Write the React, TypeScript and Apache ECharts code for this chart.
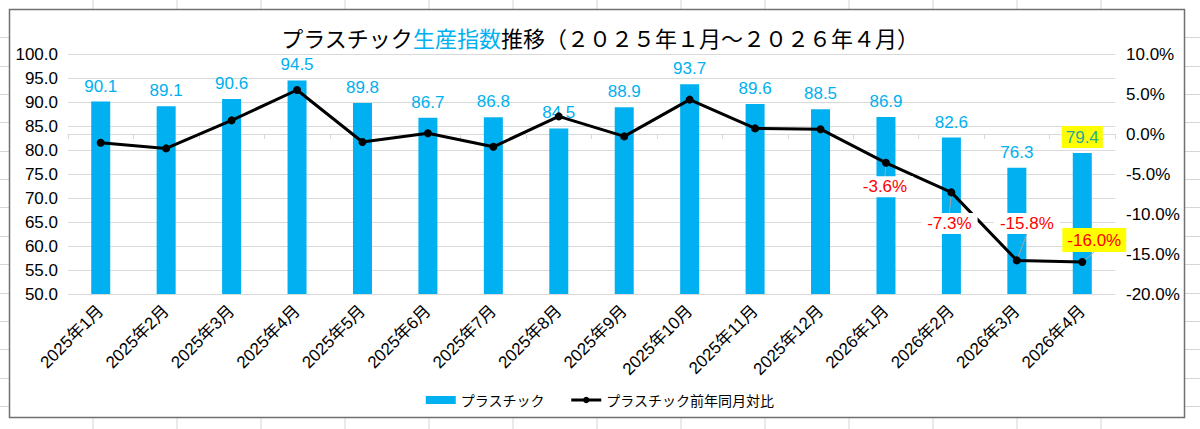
import React, { useEffect, useRef } from "react";
import * as echarts from "echarts";

const CATEGORIES = [
  "2025年1月", "2025年2月", "2025年3月", "2025年4月", "2025年5月", "2025年6月",
  "2025年7月", "2025年8月", "2025年9月", "2025年10月", "2025年11月", "2025年12月",
  "2026年1月", "2026年2月", "2026年3月", "2026年4月",
];
const INDEX_VALUES = [90.1, 89.1, 90.6, 94.5, 89.8, 86.7, 86.8, 84.5, 88.9, 93.7, 89.6, 88.5, 86.9, 82.6, 76.3, 79.4];
const YOY_VALUES = [-1.1, -1.8, 1.7, 5.5, -1.0, 0.1, -1.6, 2.2, -0.3, 4.3, 0.7, 0.6, -3.6, -7.3, -15.8, -16.0];
const LEFT_AXIS = { min: 50, max: 100, step: 5 };
const RIGHT_AXIS = { min: -20, max: 10, step: 5 };
const BAR_NAME = "プラスチック";
const LINE_NAME = "プラスチック前年同月対比";

const NUM_FONT = "'Liberation Sans', Arial, 'Noto Sans CJK JP', sans-serif";
const JP_FONT = "'Noto Sans CJK JP', 'Noto Sans', sans-serif";
const BLUE = "#00B0F0";

// label placement offsets (dx, dy) for the labelled line points, relative to the point
const LINE_LABEL_SHIFT: Record<number, [number, number]> = {
  12: [-1, 24],
  13: [-2, 31],
  14: [10, -37],
  15: [12, -22],
};

export default function App() {
  const ref = useRef<HTMLDivElement>(null);

  useEffect(() => {
    if (!ref.current) return;
    const chart = echarts.init(ref.current, null, { renderer: "svg" });

    const n = INDEX_VALUES.length;
    const lastIdx = n - 1;

    const barData = INDEX_VALUES.map((v, i) =>
      i === lastIdx
        ? {
            value: v,
            label: {
              backgroundColor: "#FFFF00",
              padding: [3, 4, 2, 4],
              color: "#27A99A",
              distance: 5,
            },
          }
        : { value: v }
    );

    const lineData = YOY_VALUES.map((v, i) => {
      if (i < 12) return { value: v };
      const last = i === lastIdx;
      return {
        value: v,
        label: {
          show: true,
          position: "inside",
          formatter: (p: any) => Number(p.value).toFixed(1) + "%",
          color: "#FF0000",
          fontSize: 17,
          fontFamily: NUM_FONT,
          backgroundColor: last ? "#FFFF00" : "#FFFFFF",
          padding: last ? [4, 5, 3, 5] : [2, 6, 2, 6],
        },
      };
    });

    // decorative spreadsheet gridlines outside the chart frame
    const sheet: any[] = [];
    const lineColor = "#D6D6D6";
    for (let k = 1; k <= 13; k++) {
      const x = 9 + 84 * k;
      sheet.push({ type: "line", shape: { x1: x, y1: 0, x2: x, y2: 9 }, style: { stroke: lineColor, lineWidth: 1 }, silent: true });
      sheet.push({ type: "line", shape: { x1: x, y1: 418, x2: x, y2: 429 }, style: { stroke: lineColor, lineWidth: 1 }, silent: true });
    }
    for (let k = 1; k <= 14; k++) {
      const y = Math.round(9 + 28.35 * k) + 0.5;
      sheet.push({ type: "line", shape: { x1: 0, y1: y, x2: 9, y2: y }, style: { stroke: lineColor, lineWidth: 1 }, silent: true });
      sheet.push({ type: "line", shape: { x1: 1185, y1: y, x2: 1200, y2: y }, style: { stroke: lineColor, lineWidth: 1 }, silent: true });
    }
    sheet.push({
      type: "rect",
      shape: { x: 9.5, y: 9.5, width: 1175, height: 408 },
      style: { fill: "none", stroke: "#707070", lineWidth: 1.5 },
      silent: true,
    });

    chart.setOption({
      animation: false,
      backgroundColor: "#FFFFFF",
      title: {
        left: "center",
        top: 21,
        text: `{a|プラスチック}{b|生産指数}{a|推移（２０２５年１月～２０２６年４月）}`,
        textStyle: {
          fontWeight: "normal",
          rich: {
            a: { fontSize: 22, color: "#000000", fontFamily: JP_FONT, fontWeight: "normal" },
            b: { fontSize: 22, color: BLUE, fontFamily: JP_FONT, fontWeight: "normal" },
          },
        },
      },
      legend: {
        top: 388,
        left: "center",
        itemGap: 25,
        itemWidth: 30,
        itemHeight: 8,
        data: [
          { name: BAR_NAME, icon: "rect" },
          { name: LINE_NAME, lineStyle: { width: 3, color: "#000000" } },
        ],
        textStyle: { fontSize: 14, color: "#000000", fontFamily: JP_FONT },
      },
      grid: { left: 68, right: 85, top: 54, bottom: 135, containLabel: false },
      xAxis: {
        type: "category",
        data: CATEGORIES,
        boundaryGap: true,
        axisLine: { lineStyle: { color: "#D9D9D9", width: 1 } },
        axisTick: { show: true, length: 5, lineStyle: { color: "#D9D9D9" } },
        axisLabel: {
          interval: 0,
          rotate: 45,
          margin: 14,
          fontSize: 17,
          color: "#000000",
          fontFamily: NUM_FONT,
        },
      },
      yAxis: [
        {
          type: "value",
          min: LEFT_AXIS.min,
          max: LEFT_AXIS.max,
          interval: LEFT_AXIS.step,
          axisLine: { show: false },
          axisTick: { show: false },
          splitLine: { lineStyle: { color: "#D9D9D9", width: 1 } },
          axisLabel: {
            margin: 10,
            fontSize: 17,
            color: "#000000",
            fontFamily: NUM_FONT,
            formatter: (v: number) => v.toFixed(1),
          },
        },
        {
          type: "value",
          min: RIGHT_AXIS.min,
          max: RIGHT_AXIS.max,
          interval: RIGHT_AXIS.step,
          axisLine: { show: false },
          axisTick: { show: false },
          splitLine: { show: false },
          axisLabel: {
            margin: 11,
            fontSize: 17,
            color: "#000000",
            fontFamily: NUM_FONT,
            formatter: (v: number) => v.toFixed(1) + "%",
          },
        },
      ],
      series: [
        {
          name: BAR_NAME,
          type: "bar",
          yAxisIndex: 0,
          barWidth: 19,
          itemStyle: { color: BLUE },
          data: barData,
          label: {
            show: true,
            position: "top",
            distance: 7,
            color: BLUE,
            fontSize: 17,
            fontFamily: NUM_FONT,
            formatter: (p: any) => Number(p.value).toFixed(1),
          },
        },
        {
          name: LINE_NAME,
          type: "line",
          yAxisIndex: 1,
          data: lineData,
          symbol: "circle",
          symbolSize: 8,
          itemStyle: { color: "#000000" },
          lineStyle: { color: "#000000", width: 3 },
          label: { show: false },
          labelLine: { show: true, lineStyle: { color: "#A6A6A6", width: 1 } },
          labelLayout: (p: any) => {
            const o = LINE_LABEL_SHIFT[p.dataIndex];
            return o ? { dx: o[0], dy: o[1] } : {};
          },
          z: 3,
        },
      ],
      graphic: { elements: sheet },
    });

    return () => chart.dispose();
  }, []);

  return (
    <div
      ref={ref}
      style={{ position: "absolute", left: 0, top: 0, width: 1200, height: 429 }}
    />
  );
}
